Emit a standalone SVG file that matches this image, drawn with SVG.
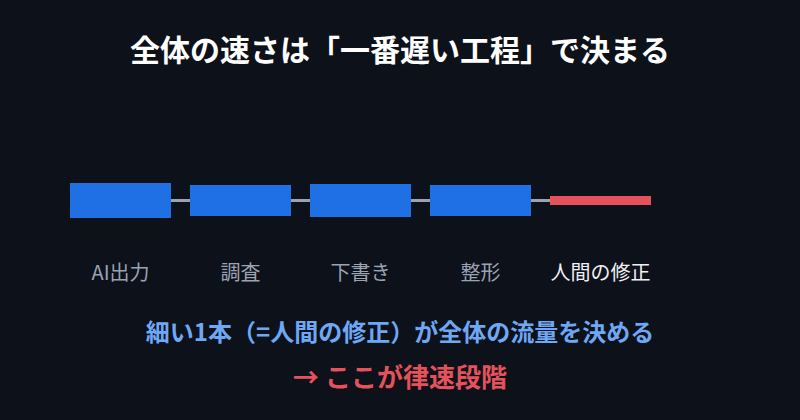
<svg xmlns="http://www.w3.org/2000/svg" width="800" height="420" viewBox="0 0 800 420">
  <style>
    text { font-family: "Noto Sans CJK JP", "Noto Sans", sans-serif; text-anchor: middle; }
    .title { font-size: 30px; font-weight: bold; fill: #ffffff; }
    .bar { fill: #1f6fe5; }
    .slow { fill: #e5525c; }
    .conn { stroke: #9aa3b2; stroke-width: 3; fill: none; }
    .label { font-size: 20px; fill: #9aa3b2; }
    .label-hi { font-size: 20px; fill: #eef0f4; }
    .note { font-size: 24px; font-weight: bold; fill: #6ea8f5; }
    .alert { font-size: 26px; font-weight: bold; fill: #e5525c; }
  </style>
  <rect x="0" y="0" width="800" height="420" fill="#0d111a"/>
  <text class="title" x="400" y="61">全体の速さは「一番遅い工程」で決まる</text>
  <g id="connectors">
    <line class="conn" x1="170" y1="200.5" x2="191" y2="200.5"/>
    <line class="conn" x1="290" y1="200.5" x2="311" y2="200.5"/>
    <line class="conn" x1="410" y1="200.5" x2="431" y2="200.5"/>
    <line class="conn" x1="530" y1="200.5" x2="551" y2="200.5"/>
  </g>
  <g id="node-ai">
    <rect class="bar" x="70" y="183" width="101" height="35"/>
    <text class="label" x="120.5" y="280">AI出力</text>
  </g>
  <g id="node-research">
    <rect class="bar" x="190" y="185" width="101" height="31"/>
    <text class="label" x="240.5" y="280">調査</text>
  </g>
  <g id="node-draft">
    <rect class="bar" x="310" y="184" width="101" height="33"/>
    <text class="label" x="360.5" y="280">下書き</text>
  </g>
  <g id="node-format">
    <rect class="bar" x="430" y="185" width="101" height="31"/>
    <text class="label" x="480.5" y="280">整形</text>
  </g>
  <g id="node-human">
    <rect class="slow" x="550" y="196" width="101" height="9"/>
    <text class="label-hi" x="600.5" y="280">人間の修正</text>
  </g>
  <text class="note" x="400" y="341">細い1本（=人間の修正）が全体の流量を決める</text>
  <text class="alert" x="400" y="387">→ ここが律速段階</text>
</svg>
